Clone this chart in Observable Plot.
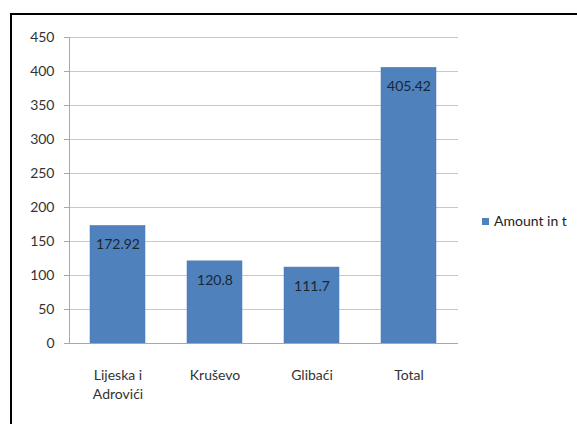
<!DOCTYPE html>
<html><head><meta charset="utf-8">
<script src="https://cdn.jsdelivr.net/npm/d3@7"></script>
<script src="https://cdn.jsdelivr.net/npm/@observablehq/plot@0.6"></script>
<style>
html,body{margin:0;padding:0;background:#fff;}
#wrap{position:relative;width:577px;height:424px;overflow:hidden;font-family:Lato,"Open Sans",sans-serif;}
#frame{position:absolute;left:10px;top:13px;width:620px;height:460px;border:2px solid #000;box-sizing:border-box;}
#chart{position:absolute;left:0;top:0;}
#legend{position:absolute;left:482px;top:212px;font-size:14px;color:#222;white-space:nowrap;}
#legend span.sw{display:inline-block;width:7px;height:7px;background:#4f81bd;margin-right:5px;vertical-align:1px;}
</style></head>
<body><div id="wrap"><div id="frame"></div><div id="chart"></div><div id="legend"><span class="sw"></span>Amount in t</div></div>
<script>
const categories = ["Lijeska i\nAdrovići", "Kruševo", "Glibaći", "Total"];
const amounts = [172.92, 120.8, 111.7, 405.42];
const valueLabels = ["172.92", "120.8", "111.7", "405.42"];
const yTicks = [0, 50, 100, 150, 200, 250, 300, 350, 400, 450];

const data = categories.map((c, i) => ({cat: c, v: amounts[i], label: valueLabels[i]}));

const chart = Plot.plot({
  width: 577, height: 424,
  marginLeft: 69, marginRight: 119, marginTop: 37, marginBottom: 81,
  style: {fontFamily: "Lato, 'Open Sans', sans-serif", fontSize: "14px", color: "#333", background: "transparent"},
  x: {domain: categories, paddingInner: 0.43, paddingOuter: 0.215},
  y: {domain: [0, 450]},
  marks: [
    Plot.gridY(yTicks, {stroke: "#c8c8c8", strokeOpacity: 1}),
    Plot.barY(data, {x: "cat", y: "v", fill: "#4f81bd", stroke: "#4a7ab3", strokeWidth: 0.5}),
    Plot.text(data, {x: "cat", y: "v", text: "label", dy: 19, fill: "#1a2633", fontSize: 14}),
    Plot.ruleY([0], {stroke: "#a8a8a8"}),
    Plot.frame({anchor: "left", stroke: "#a8a8a8"}),
    Plot.axisY(yTicks, {tickSize: 5, tickPadding: 10, stroke: "#a8a8a8", fill: "#333", fontSize: 14, label: null}),
    Plot.axisX({tickSize: 0, tickPadding: 24, fill: "#333", fontSize: 14, lineHeight: 1.3, label: null})
  ]
});
document.getElementById("chart").appendChild(chart);
</script>
</body></html>
